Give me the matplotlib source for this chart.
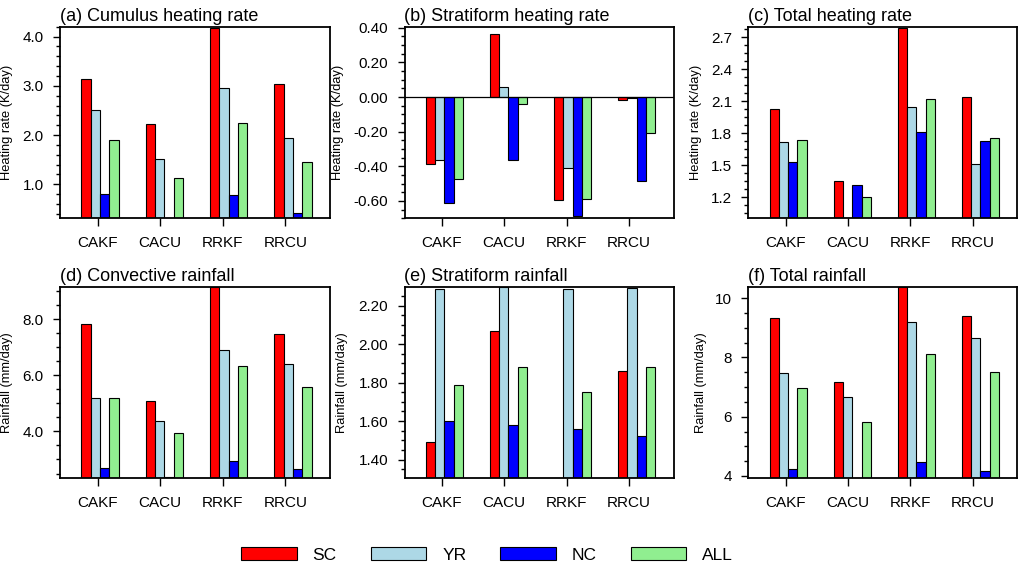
import numpy as np
import matplotlib
matplotlib.use("Agg")
import matplotlib.pyplot as plt
from matplotlib.ticker import MultipleLocator, FormatStrFormatter
from matplotlib.patches import Patch

plt.rcParams['font.family'] = ['Liberation Sans', 'DejaVu Sans']

# categories (experiments) and regions
cats = ['CAKF', 'CACU', 'RRKF', 'RRCU']
regions = ['SC', 'YR', 'NC', 'ALL']
colors = ['#FF0000', '#ADD8E6', '#0000FF', '#90EE90']

# (a) cumulus heating rate (K/day)
cu_sc = [3.13, 2.22, 4.17, 3.03]
cu_yr = [2.50, 1.51, 2.95, 1.94]
cu_nc = [0.80, 0.31, 0.78, 0.41]
cu_all = [1.89, 1.12, 2.24, 1.45]

# (b) stratiform heating rate (K/day)
st_sc = [-0.385, 0.362, -0.592, -0.017]
st_yr = [-0.362, 0.057, -0.408, -0.003]
st_nc = [-0.609, -0.364, -0.688, -0.483]
st_all = [-0.471, -0.040, -0.586, -0.207]

# (c) total heating rate (K/day)
th_sc = [2.03, 1.35, 2.79, 2.14]
th_yr = [1.72, 1.00, 2.05, 1.51]
th_nc = [1.53, 1.31, 1.81, 1.73]
th_all = [1.74, 1.20, 2.12, 1.755]

# (d) convective rainfall (mm/day)
cr_sc = [7.82, 5.10, 9.16, 7.49]
cr_yr = [5.19, 4.37, 6.90, 6.41]
cr_nc = [2.70, 2.39, 2.95, 2.66]
cr_all = [5.18, 3.94, 6.33, 5.60]

# (e) stratiform rainfall (mm/day)
sr_sc = [1.49, 2.07, 1.30, 1.86]
sr_yr = [2.285, 2.30, 2.285, 2.29]
sr_nc = [1.60, 1.58, 1.56, 1.52]
sr_all = [1.79, 1.88, 1.75, 1.88]

# (f) total rainfall (mm/day)
tr_sc = [9.32, 7.18, 10.39, 9.39]
tr_yr = [7.46, 6.66, 9.19, 8.67]
tr_nc = [4.25, 3.93, 4.47, 4.18]
tr_all = [6.96, 5.81, 8.11, 7.50]

W, H = 1021, 564


def rect(l, r, t, b):
    return [l / W, 1 - b / H, (r - l) / W, (b - t) / H]


hr_lab = 'Heating rate (K/day)'
rf_lab = 'Rainfall (mm/day)'

panels = [
    (rect(60, 330, 26.7, 218.3), [cu_sc, cu_yr, cu_nc, cu_all], (0.31, 4.2), 1.0, 0.2, '%.1f',
     '(a) Cumulus heating rate', hr_lab, -0.173, False),
    (rect(404.5, 673.5, 26.5, 218.3), [st_sc, st_yr, st_nc, st_all], (-0.70, 0.407), 0.2, 0.05, '%.2f',
     '(b) Stratiform heating rate', hr_lab, -0.225, True),
    (rect(748.3, 1017.3, 26.7, 218.3), [th_sc, th_yr, th_nc, th_all], (1.0, 2.80), 0.3, 0.075, '%.1f',
     '(c) Total heating rate', hr_lab, -0.173, False),
    (rect(60, 330, 286.7, 478), [cr_sc, cr_yr, cr_nc, cr_all], (2.34, 9.16), 2.0, 0.5, '%.1f',
     '(d) Convective rainfall', rf_lab, -0.173, False),
    (rect(404.5, 673.5, 286.7, 478), [sr_sc, sr_yr, sr_nc, sr_all], (1.304, 2.299), 0.2, 0.05, '%.2f',
     '(e) Stratiform rainfall', rf_lab, -0.209, False),
    (rect(748.3, 1017.3, 286.7, 478), [tr_sc, tr_yr, tr_nc, tr_all], (3.93, 10.39), 2.0, 0.5, '%d',
     '(f) Total rainfall', rf_lab, -0.155, False),
]

fig = plt.figure(figsize=(W / 100, H / 100), dpi=100)

tick_pos = np.arange(1, 5)
group_c = 1.04 + 1.028 * np.arange(4)
bw = 0.149
offs = (np.arange(4) - 1.5) * bw

for r, series, ylim, major, minor, fmt, title, ylab, labx, zero_base in panels:
    ax = fig.add_axes(r)
    base = 0.0 if zero_base else ylim[0]
    for k, vals in enumerate(series):
        vals = np.array(vals)
        ax.bar(group_c + offs[k], vals - base, bottom=base, width=bw,
               color=colors[k], edgecolor='black', linewidth=0.8, zorder=2)
    if zero_base:
        ax.axhline(0, color='black', linewidth=0.9, zorder=3)
    ax.set_xlim(0.4, 4.715)
    ax.set_ylim(*ylim)
    ax.set_xticks(tick_pos)
    ax.set_xticklabels(cats, fontsize=11)
    ax.yaxis.set_major_locator(MultipleLocator(major))
    ax.yaxis.set_minor_locator(MultipleLocator(minor))
    ax.yaxis.set_major_formatter(FormatStrFormatter(fmt))
    ax.tick_params(axis='y', which='major', direction='out', length=4.8, width=1.0,
                   pad=7, labelsize=11)
    ax.tick_params(axis='y', which='minor', direction='out', length=2.9, width=1.0)
    ax.tick_params(axis='x', which='major', direction='out', length=5.8, width=1.0, pad=7)
    for sp in ax.spines.values():
        sp.set_linewidth(1.3)
    ax.set_title(title, loc='left', fontsize=13, pad=4)
    ax.set_ylabel(ylab, fontsize=9.3)
    ax.yaxis.set_label_coords(labx, 0.5)

handles = [Patch(facecolor=c, edgecolor='black', linewidth=0.8) for c in colors]
fig.legend(handles, regions, loc='center', bbox_to_anchor=(0.477, 0.0165), ncol=4,
           frameon=False, fontsize=12.5, handlelength=3.2, handleheight=0.8,
           handletextpad=0.92, columnspacing=1.95, borderpad=0)

fig.savefig('out.png', dpi=100)
